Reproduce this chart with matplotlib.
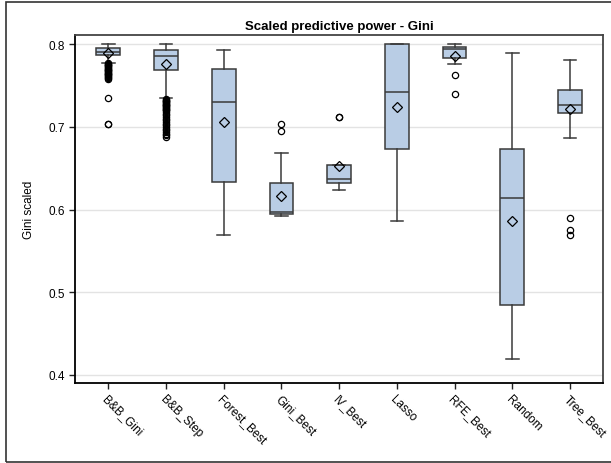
import matplotlib
matplotlib.use("Agg")
import matplotlib.pyplot as plt
from matplotlib.patches import Rectangle

plt.rcParams['font.family'] = ['Liberation Sans', 'DejaVu Sans']

categories = ["B&B_Gini", "B&B_Step", "Forest_Best", "Gini_Best", "IV_Best",
              "Lasso", "RFE_Best", "Random", "Tree_Best"]
whislo = [0.7778, 0.7347, 0.5688, 0.5918, 0.6236, 0.5863, 0.7758, 0.4186, 0.6863]
q1     = [0.7871, 0.7690, 0.6330, 0.5946, 0.6317, 0.6730, 0.7839, 0.4844, 0.7173]
med    = [0.7911, 0.7859, 0.7306, 0.5975, 0.6370, 0.7427, 0.7940, 0.6137, 0.7262]
q3     = [0.7952, 0.7927, 0.7702, 0.6323, 0.6540, 0.8000, 0.7968, 0.6730, 0.7448]
whishi = [0.8000, 0.8000, 0.7927, 0.6690, 0.6540, 0.8000, 0.8000, 0.7895, 0.7806]
means  = [0.7895, 0.7758, 0.7060, 0.6165, 0.6528, 0.7238, 0.7859, 0.5863, 0.7214]
outliers = [
    [0.7775, 0.7765, 0.7755, 0.7745, 0.7735, 0.7725, 0.7715, 0.7705, 0.7695,
     0.7685, 0.7675, 0.7665, 0.7655, 0.7645, 0.7635, 0.7625, 0.7615, 0.7605,
     0.7595, 0.7580, 0.7355, 0.7040, 0.7033],
    [0.7340, 0.7330, 0.7320, 0.7310, 0.7300, 0.7290, 0.7280, 0.7270, 0.7260,
     0.7250, 0.7240, 0.7230, 0.7220, 0.7210, 0.7200, 0.7180, 0.7160, 0.7140,
     0.7120, 0.7100, 0.7080, 0.7060, 0.7040, 0.7020, 0.7000, 0.6980, 0.6960,
     0.6940, 0.6920, 0.6900, 0.6880],
    [],
    [0.7032, 0.6952],
    [0.7125, 0.7115],
    [],
    [0.7629, 0.7399],
    [],
    [0.5903, 0.5752, 0.5695],
]
yticks = [0.4, 0.5, 0.6, 0.7, 0.8]

stats = []
for i, c in enumerate(categories):
    stats.append(dict(label=c, whislo=whislo[i], q1=q1[i], med=med[i], q3=q3[i],
                      whishi=whishi[i], mean=means[i], fliers=outliers[i]))

fig = plt.figure(figsize=(6.11, 4.64), dpi=100)
fig.patches.append(Rectangle((6/611, 0.8/464), 1.2, (460.0)/464, transform=fig.transFigure,
                             fill=False, edgecolor='#333333', linewidth=1.2))
ax = fig.add_axes([75/611, 1 - 384/464, (603.3 - 75)/611, (384 - 36)/464])

edge = '#3a3a3a'
ax.bxp(stats, positions=range(1, 10), widths=0.41, showmeans=True, patch_artist=True,
       capwidths=0.22,
       boxprops=dict(facecolor='#b9cde5', edgecolor=edge, linewidth=1.1),
       medianprops=dict(color=edge, linewidth=1.1),
       whiskerprops=dict(color=edge, linewidth=1.1),
       capprops=dict(color=edge, linewidth=1.1),
       meanprops=dict(marker='D', markerfacecolor='none', markeredgecolor='black',
                      markersize=5.5, markeredgewidth=0.9),
       flierprops=dict(marker='o', markerfacecolor='none', markeredgecolor='black',
                       markersize=4.5, markeredgewidth=0.9),
       zorder=3)

ax.set_xlim(0.423, 9.577)
ax.set_ylim(0.39, 0.8113)
ax.set_yticks(yticks)
ax.set_yticklabels([f"{v:.1f}" for v in yticks])
ax.yaxis.grid(True, color='#e3e3e3', linewidth=1.0, zorder=0)
ax.set_axisbelow(True)
ax.set_xticks(range(1, 10))
ax.set_xticklabels(categories, rotation=-45, ha='left', va='top', rotation_mode='anchor',
                   fontsize=8.5)
ax.tick_params(axis='both', direction='out', length=4, width=1, color='#222222',
               labelsize=8.5, pad=3)
ax.set_ylabel("Gini scaled", fontsize=8.5, labelpad=10)
ax.set_title("Scaled predictive power - Gini", fontsize=9.5, fontweight='bold', pad=4)

for s in ['left', 'bottom']:
    ax.spines[s].set_color('black')
    ax.spines[s].set_linewidth(1.3)
for s in ['top', 'right']:
    ax.spines[s].set_color('#444444')
    ax.spines[s].set_linewidth(1.3)

fig.savefig("out.png", dpi=100)
